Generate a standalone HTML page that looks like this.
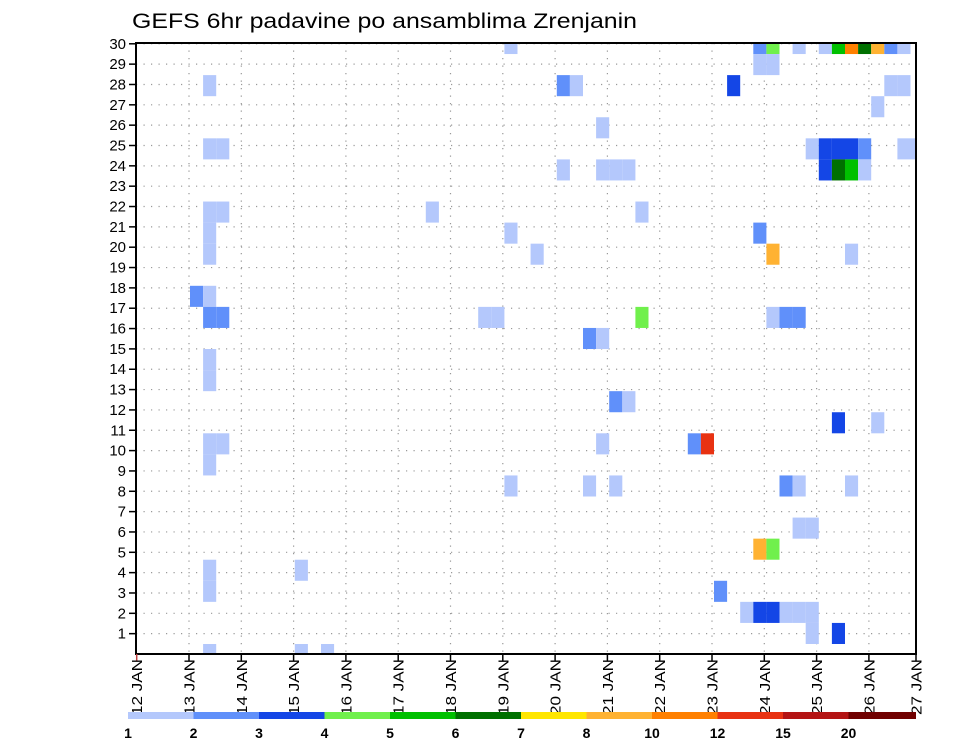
<!DOCTYPE html>
<html><head><meta charset="utf-8"><style>
html,body{margin:0;padding:0;background:#fff;}
svg{display:block;font-family:"Liberation Sans",sans-serif;}
</style></head><body>
<svg id="chart" width="960" height="742" viewBox="0 0 960 742" xmlns="http://www.w3.org/2000/svg">
<rect x="0" y="0" width="960" height="742" fill="#fff"/>
<text x="132" y="28" font-size="21" textLength="505" lengthAdjust="spacingAndGlyphs" fill="#000">GEFS 6hr padavine po ansamblima Zrenjanin</text>
<g id="grid"></g>
<g id="cells"></g>
<g id="axes"></g>
<g id="colorbar"></g>
</svg>
<script>
// time step index (6h steps from 12 JAN 00z)
const cellStep = [47,48,50,52,53,54,55,56,57,58, 47,48, 45,57,58, 56, 51,52,53,54,55,58,59, 52,53,54,55, 47, 48,54, 48,49,50, 53,56, 42,43, 49,50,54, 50,51, 47,48, 44, 46,47,48,49,50,51, 51,53,
  28, 32,33, 35, 32,35,36,37, 22,38, 28, 30, 26,27,38, 34,35, 36,37, 35, 28,34,36,
  5, 5,6, 5,6, 5,5, 4,5, 5,6, 5,5, 5,6,5, 5,5,12, 5,12,14];
// ensemble member index
const cellMember = [29,29,29,29,29,29,29,29,29,29, 28,28, 27,27,27, 26, 24,24,24,24,24,24,24, 23,23,23,23, 20, 19,19, 16,16,16, 11,11, 10,10, 8,8,8, 6,6, 5,5, 3, 2,2,2,2,2,2, 1,1,
  29, 27,27, 25, 23,23,23,23, 21,21, 20, 19, 16,16,16, 15,15, 12,12, 10, 8,8,8,
  27, 24,24, 21,21, 20,19, 17,17, 16,16, 14,13, 10,10,9, 4,3,4, 0,0,0];
// 6hr precipitation (mm)
const cellValue = [2.5,4.5,1.5,1.5,5.5,11,6.5,9,2.5,1.5, 1.5,1.5, 3.5,1.5,1.5, 1.5, 1.5,3.5,3.5,3.5,2.5,1.5,1.5, 3.5,6.5,5.5,1.5, 2.5, 9,1.5, 1.5,2.5,2.5, 3.5,1.5, 2.5,13, 2.5,1.5,1.5, 1.5,1.5, 9,4.5, 2.5, 1.5,3.5,3.5,1.5,1.5,1.5, 1.5,3.5,
  1.5, 2.5,1.5, 1.5, 1.5,1.5,1.5,1.5, 1.5,1.5, 1.5, 1.5, 1.5,1.5,4.5, 2.5,1.5, 2.5,1.5, 1.5, 1.5,1.5,1.5,
  1.5, 1.5,1.5, 1.5,1.5, 1.5,1.5, 2.5,1.5, 2.5,2.5, 1.5,1.5, 1.5,1.5,1.5, 1.5,1.5,1.5, 1.5,1.5,1.5];
const levels = [1,2,3,4,5,6,7,8,10,12,15,20];
const levelLabels = ["1","2","3","4","5","6","7","8","10","12","15","20"];
const levelColors = ["#b4c8fc","#6090fa","#1446e6","#70f04c","#00c000","#007000","#ffe600","#ffb232","#ff8000","#e83212","#b41414","#700000"];
const yTicks = [1,2,3,4,5,6,7,8,9,10,11,12,13,14,15,16,17,18,19,20,21,22,23,24,25,26,27,28,29,30];
const xTickLabels = ["12 JAN","13 JAN","14 JAN","15 JAN","16 JAN","17 JAN","18 JAN","19 JAN","20 JAN","21 JAN","22 JAN","23 JAN","24 JAN","25 JAN","26 JAN","27 JAN"];

const NS="http://www.w3.org/2000/svg";
const L=136, R=916, T=43, B=654;
const xDay = d => 136.7 + d*52.3;
const xStep = k => 137.6 + k*13.1;
const yTick = v => 654 - v*20.34;
const yCellTop = j => 644 - j*21.07;
function colorFor(v){let c=levelColors[0];for(let i=0;i<levels.length;i++){if(v>=levels[i])c=levelColors[i];}return c;}
function mk(tag,attrs,parent){const e=document.createElementNS(NS,tag);for(const a in attrs)e.setAttribute(a,attrs[a]);parent.appendChild(e);return e;}

const grid=document.getElementById('grid');
yTicks.forEach(v=>{
  const l=mk('line',{x1:L,x2:R,y1:yTick(v),y2:yTick(v),stroke:'#999','stroke-width':1.2,'stroke-dasharray':'1.2 6.3'},grid);
  
  
});
xTickLabels.forEach((s,i)=>{
  if(i===0||i===xTickLabels.length-1)return;
  const l=mk('line',{x1:xDay(i),x2:xDay(i),y1:T,y2:B,stroke:'#999','stroke-width':1.2,'stroke-dasharray':'1.2 6.3'},grid);
  
  
});

const cells=document.getElementById('cells');
for(let i=0;i<cellStep.length;i++){
  const x=xStep(cellStep[i]);
  let y=yCellTop(cellMember[i]), h=21.07;
  let y2=Math.min(y+h,B); y=Math.max(y,T);
  const w=Math.min(13.1, R-x);
  const r=mk('rect',{x:x,y:y,width:w,height:y2-y,fill:colorFor(cellValue[i])},cells);
  
  
}

const axes=document.getElementById('axes');
const fr=mk('rect',{x:L,y:T,width:R-L,height:B-T,fill:'none',stroke:'#000','stroke-width':2},axes);


yTicks.forEach(v=>{
  const tk=mk('line',{x1:129,x2:L,y1:yTick(v),y2:yTick(v),stroke:'#000','stroke-width':1.5},axes);
  
  
  const t=mk('text',{x:126,y:yTick(v)+5,'font-size':15,'text-anchor':'end',fill:'#000'},axes);
  t.textContent=String(v);
  
  
});
xTickLabels.forEach((s,i)=>{
  const x=Math.min(xDay(i),916);
  const tk=mk('line',{x1:x,x2:x,y1:B,y2:B+7,stroke:i===0?'#c04040':'#000','stroke-width':1.5},axes);
  
  
  const t=mk('text',{x:0,y:0,'font-size':15,'text-anchor':'end',fill:'#000',textLength:56,lengthAdjust:'spacingAndGlyphs',transform:`translate(${x+5.5},659) rotate(-90)`},axes);
  t.textContent=s;
  
  
});

const cb=document.getElementById('colorbar');
const cbX = i => 128 + i*65.5;
levelColors.forEach((c,i)=>{
  const x1=cbX(i), x2=(i===levelColors.length-1)?916:cbX(i+1);
  const r=mk('rect',{x:x1,y:712,width:x2-x1,height:7,fill:c},cb);
  
  
});
levelLabels.forEach((s,i)=>{
  const t=mk('text',{x:cbX(i),y:738,'font-size':14,'font-weight':'bold','text-anchor':'middle',fill:'#000'},cb);
  t.textContent=s;
  
  
});
</script>
</body></html>
